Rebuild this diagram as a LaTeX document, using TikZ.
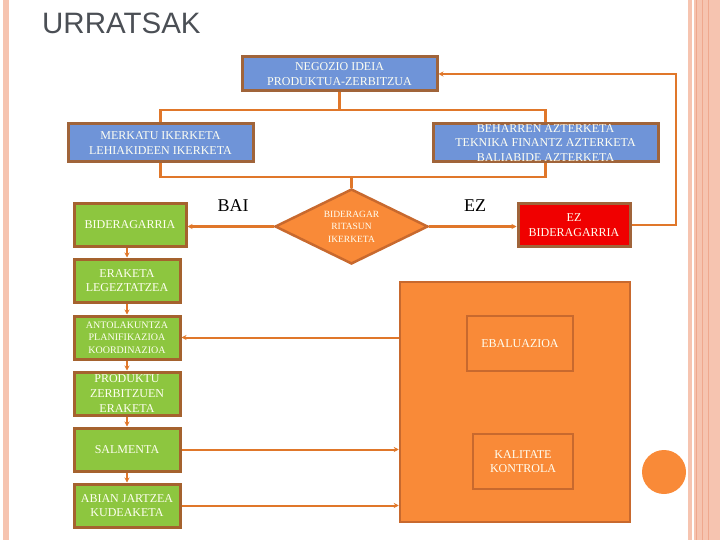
\documentclass[tikz,border=0pt]{standalone}
\usepackage{fontspec}
\setmainfont{Liberation Serif}
\newfontfamily\titlefont{Liberation Sans}
\usetikzlibrary{shapes.geometric,arrows.meta}
\definecolor{blueF}{HTML}{6F94D8}
\definecolor{brownB}{HTML}{A0643A}
\definecolor{greenF}{HTML}{8DC63F}
\definecolor{greenB}{HTML}{A5622E}
\definecolor{orangeF}{HTML}{F98A38}
\definecolor{orangeB}{HTML}{C8692E}
\definecolor{redF}{HTML}{F00000}
\definecolor{connC}{HTML}{E0772A}
\definecolor{pinkB}{HTML}{F6C4B0}
\definecolor{pinkD}{HTML}{EFA88E}
\definecolor{titleC}{HTML}{4B4F55}
\definecolor{txtC}{HTML}{FFFFF2}
\tikzset{
  box/.style={draw, line width=3pt, inner sep=0pt, align=center, text=txtC,
    font=\fontsize{12}{14.5}\selectfont},
  bluebox/.style={box, fill=blueF, draw=brownB},
  greenbox/.style={box, fill=greenF, draw=greenB, minimum width=106pt, minimum height=43pt},
  orangebox/.style={box, fill=orangeF, draw=orangeB, line width=2.5pt},
  conn/.style={draw=connC, line width=2.3pt},
  arr/.style={conn, -{Stealth[length=5pt,width=5pt]}},
  lbl/.style={font=\fontsize{18}{18}\selectfont, text=black}
}
\begin{document}
\begin{tikzpicture}[x=1pt,y=-1pt]
\useasboundingbox (0,0) rectangle (720,540);
% page decoration
\fill[pinkB] (3,0) rectangle (9,540);
\fill[pinkB] (688,0) rectangle (692,540);
\fill[pinkB] (694,0) rectangle (720,540);
\draw[pinkD, line width=0.8pt] (696,0) -- (696,540);
\draw[pinkD, line width=0.8pt] (702.5,0) -- (702.5,540);
\draw[pinkD, line width=0.8pt] (708.5,0) -- (708.5,540);
% title
\node[anchor=base west, inner sep=0pt, text=titleC, font=\titlefont\fontsize{29.5}{30}\selectfont] (title) at (42,34) {URRATSAK};
% top boxes
\node[bluebox, minimum width=195pt, minimum height=34pt] (neg) at (339.5,74) {NEGOZIO IDEIA\\PRODUKTUA-ZERBITZUA};
\node[bluebox, minimum width=185pt, minimum height=38pt] (merk) at (160.5,143) {MERKATU IKERKETA\\LEHIAKIDEEN IKERKETA};
\node[bluebox, minimum width=225pt, minimum height=38pt] (behar) at (545.5,143) {BEHARREN AZTERKETA\\TEKNIKA FINANTZ AZTERKETA\\BALIABIDE AZTERKETA};
% diamond
\node[diamond, shape aspect=2, draw=orangeB, fill=orangeF, line width=2.5pt, inner sep=0pt, minimum width=153pt, minimum height=75pt, align=center, text=txtC, font=\fontsize{9.5}{12.5}\selectfont] (diam) at (351.5,226.5) {BIDERAGAR\\RITASUN\\IKERKETA};
% decision outcomes
\node[greenbox, minimum width=112pt] (bid) at (130,225) {BIDERAGARRIA};
\node[box, fill=redF, draw=brownB, minimum width=112pt, minimum height=42pt, font=\fontsize{12}{15.5}\selectfont] (ez) at (574,225) {EZ\\BIDERAGARRIA};
\node[lbl] (bai) at (233,206) {BAI};
\node[lbl] (ezl) at (475,206) {EZ};
% green column
\node[greenbox] (erak) at (127,280.5) {ERAKETA\\LEGEZTATZEA};
\node[greenbox, font=\fontsize{10}{12.5}\selectfont] (anto) at (127,337.5) {ANTOLAKUNTZA\\PLANIFIKAZIOA\\KOORDINAZIOA};
\node[greenbox, font=\fontsize{12}{14.7}\selectfont] (prod) at (127,393.5) {PRODUKTU\\ZERBITZUEN\\ERAKETA};
\node[greenbox] (salm) at (127,449.5) {SALMENTA};
\node[greenbox] (abian) at (127,505.5) {ABIAN JARTZEA\\KUDEAKETA};
% big orange block
\node[orangebox, minimum width=230pt, minimum height=240pt] (big) at (515,402) {};
\node[orangebox, minimum width=106pt, minimum height=55pt] (ebal) at (520,343.5) {EBALUAZIOA};
\node[orangebox, minimum width=100pt, minimum height=55pt] (kal) at (523,461.5) {KALITATE\\KONTROLA};
\fill[orangeF] (664,472) circle (22);
% connectors
\coordinate (j1) at (339.5,110);
\coordinate (j2) at (351.5,177);
\coordinate (loop) at (676,0);
\draw[conn] (neg.south) -- (j1);
\draw[conn] (merk.north) |- (j1) -| (behar.north);
\draw[conn] (merk.south) |- (j2) -| (behar.south);
\draw[conn] (j2) -- (diam.north);
\draw[arr] (diam.west) -- (diam.west -| bid.east);
\draw[arr] (diam.east) -- (diam.east -| ez.west);
\draw[arr] (ez.east) -- (ez.east -| loop) |- (neg.east);
\draw[arr] (erak.north |- bid.south) -- (erak.north);
\draw[arr] (erak.south) -- (anto.north);
\draw[arr] (anto.south) -- (prod.north);
\draw[arr] (prod.south) -- (salm.north);
\draw[arr] (salm.south) -- (abian.north);
\draw[arr, line width=2pt] (big.west |- anto.east) -- (anto.east);
\draw[arr, line width=2pt] (salm.east) -- (big.west |- salm.east);
\draw[arr, line width=2pt] (abian.east) -- (big.west |- abian.east);
\end{tikzpicture}
\end{document}
